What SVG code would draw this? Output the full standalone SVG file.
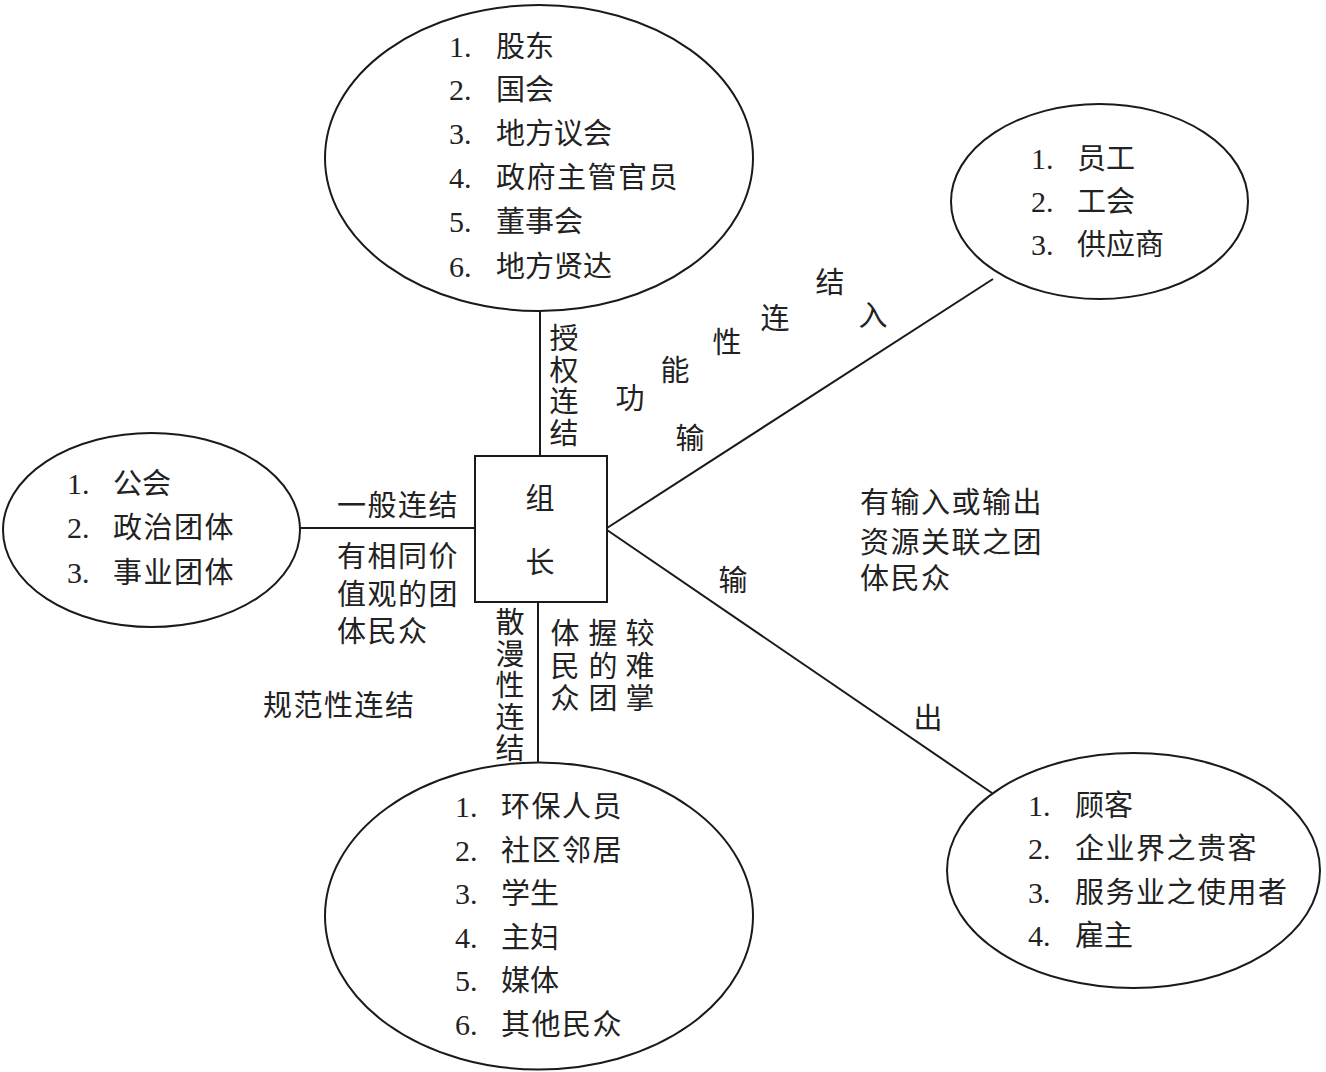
<svg xmlns="http://www.w3.org/2000/svg" width="1326" height="1072" viewBox="0 0 1326 1072">
<style>
.shape{fill:none;stroke:#1a1a1a;stroke-width:2}
.conn{fill:none;stroke:#1a1a1a;stroke-width:2}
text{font-family:"Noto Sans CJK SC","Liberation Sans",sans-serif;font-size:29px;fill:#222}
.num{font-family:"Liberation Serif",serif;font-size:30px}
.c{text-anchor:middle}
.v{writing-mode:vertical-rl;letter-spacing:2.5px}
</style>
<rect width="1326" height="1072" fill="#fff"/>
<g id="connectors">
<path class="conn" d="M540 310V456"/>
<path class="conn" d="M300 528H475"/>
<path class="conn" d="M538 602V763"/>
<path class="conn" d="M607 528L993 279"/>
<path class="conn" d="M607 530L992 793"/>
</g>
<g id="node-top">
<ellipse class="shape" cx="539" cy="158" rx="214" ry="153"/>
<text class="num" x="449" y="57">1.</text><text x="496" y="57">股东</text>
<text class="num" x="449" y="100">2.</text><text x="496" y="100">国会</text>
<text class="num" x="449" y="144">3.</text><text x="496" y="144">地方议会</text>
<text class="num" x="449" y="188">4.</text><text x="496" y="188" letter-spacing="1.5">政府主管官员</text>
<text class="num" x="449" y="232">5.</text><text x="496" y="232">董事会</text>
<text class="num" x="449" y="277">6.</text><text x="496" y="277">地方贤达</text>
</g>
<g id="node-topright">
<ellipse class="shape" cx="1099.5" cy="201.5" rx="148.5" ry="97.5"/>
<text class="num" x="1031" y="169">1.</text><text x="1077" y="169">员工</text>
<text class="num" x="1031" y="212">2.</text><text x="1077" y="212">工会</text>
<text class="num" x="1031" y="255">3.</text><text x="1077" y="255">供应商</text>
</g>
<g id="node-left">
<ellipse class="shape" cx="151.5" cy="530" rx="148.5" ry="97"/>
<text class="num" x="67" y="494">1.</text><text x="113" y="494">公会</text>
<text class="num" x="67" y="538">2.</text><text x="113" y="538" letter-spacing="1.5">政治团体</text>
<text class="num" x="67" y="583">3.</text><text x="113" y="583" letter-spacing="1.5">事业团体</text>
</g>
<g id="node-bottom">
<ellipse class="shape" cx="539" cy="916" rx="214" ry="153.5"/>
<text class="num" x="455" y="817">1.</text><text x="501" y="817" letter-spacing="1.5">环保人员</text>
<text class="num" x="455" y="861">2.</text><text x="501" y="861" letter-spacing="1.5">社区邻居</text>
<text class="num" x="455" y="904">3.</text><text x="501" y="904">学生</text>
<text class="num" x="455" y="948">4.</text><text x="501" y="948">主妇</text>
<text class="num" x="455" y="991">5.</text><text x="501" y="991">媒体</text>
<text class="num" x="455" y="1035">6.</text><text x="501" y="1035" letter-spacing="1.5">其他民众</text>
</g>
<g id="node-bottomright">
<ellipse class="shape" cx="1133.5" cy="870.5" rx="186.5" ry="117.5"/>
<text class="num" x="1028" y="816">1.</text><text x="1075" y="816">顾客</text>
<text class="num" x="1028" y="859">2.</text><text x="1075" y="859" letter-spacing="1.5">企业界之贵客</text>
<text class="num" x="1028" y="903">3.</text><text x="1075" y="903" letter-spacing="1.5">服务业之使用者</text>
<text class="num" x="1028" y="946">4.</text><text x="1075" y="946">雇主</text>
</g>
<g id="node-center">
<rect class="shape" x="475" y="456" width="132" height="146"/>
<text class="c" x="540" y="509">组</text>
<text class="c" x="540" y="573">长</text>
</g>
<g id="labels">
<text class="v" x="564" y="323.5">授权连结</text>
<text class="c" x="630" y="409">功</text>
<text class="c" x="675" y="381">能</text>
<text class="c" x="727" y="353">性</text>
<text class="c" x="775" y="329">连</text>
<text class="c" x="830" y="293">结</text>
<text class="c" x="873" y="326">入</text>
<text class="c" x="690" y="449">输</text>
<text class="c" x="733" y="591">输</text>
<text class="c" x="928" y="729">出</text>
<text letter-spacing="1.5"><tspan x="860" y="513">有输入或输出</tspan><tspan x="860" y="553">资源关联之团</tspan><tspan x="860" y="589">体民众</tspan></text>
<text x="337" y="516" letter-spacing="1.5">一般连结</text>
<text letter-spacing="1.5"><tspan x="337" y="567">有相同价</tspan><tspan x="337" y="605">值观的团</tspan><tspan x="337" y="642">体民众</tspan></text>
<text x="263" y="716" letter-spacing="1.5">规范性连结</text>
<text class="v" x="510" y="607.5">散漫性连结</text>
<text class="v" x="640" y="618.5" style="letter-spacing:3.5px">较难掌</text>
<text class="v" x="603" y="618.5" style="letter-spacing:3.5px">握的团</text>
<text class="v" x="565" y="618.5" style="letter-spacing:3.5px">体民众</text>
</g>
</svg>
